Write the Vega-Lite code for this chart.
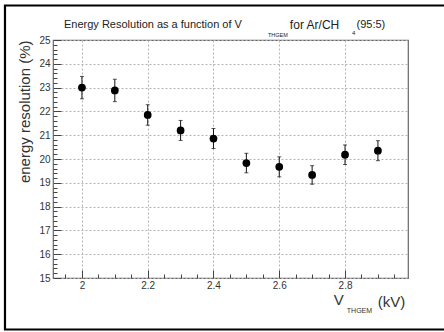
{
  "$schema": "https://vega.github.io/schema/vega-lite/v6.json",
  "width": 355,
  "height": 238,
  "autosize": {"type": "none"},
  "padding": {"left": 53, "top": 40, "right": 36, "bottom": 54},
  "background": "white",
  "config": {
    "view": {"stroke": "#666", "strokeWidth": 1.2},
    "font": "Liberation Sans",
    "axis": {"domain": false, "labelFont": "Liberation Sans", "labelColor": "#333", "labelFontSize": 10, "tickColor": "#444", "titleFont": "Liberation Sans", "titleFontWeight": "normal", "titleColor": "#333"}
  },
  "data": {
    "values": [
      {"v": 2.0, "res": 23.0, "err": 0.47},
      {"v": 2.1, "res": 22.88, "err": 0.47},
      {"v": 2.2, "res": 21.85, "err": 0.43},
      {"v": 2.3, "res": 21.2, "err": 0.42},
      {"v": 2.4, "res": 20.86, "err": 0.42},
      {"v": 2.5, "res": 19.83, "err": 0.41},
      {"v": 2.6, "res": 19.67, "err": 0.42},
      {"v": 2.7, "res": 19.33, "err": 0.39},
      {"v": 2.8, "res": 20.18, "err": 0.41},
      {"v": 2.9, "res": 20.35, "err": 0.42}
    ]
  },
  "layer": [
    {
      "mark": {"type": "errorbar", "color": "#111", "thickness": 1, "ticks": {"size": 4, "color": "#111"}},
      "encoding": {
        "x": {"field": "v", "type": "quantitative", "scale": {"domain": [1.912, 2.9915], "nice": false, "zero": false},
              "axis": {"orient": "bottom", "title": null, "values": [1.95, 2.05, 2.1, 2.15, 2.25, 2.3, 2.35, 2.45, 2.5, 2.55, 2.65, 2.7, 2.75, 2.85, 2.9, 2.95], "labels": false, "grid": false, "tickSize": -4}},
        "y": {"field": "res", "type": "quantitative", "scale": {"domain": [15, 25], "nice": false, "zero": false},
              "axis": {"orient": "left", "title": null, "values": [15.2, 15.4, 15.6, 15.8, 16.2, 16.4, 16.6, 16.8, 17.2, 17.4, 17.6, 17.8, 18.2, 18.4, 18.6, 18.8, 19.2, 19.4, 19.6, 19.8, 20.2, 20.4, 20.6, 20.8, 21.2, 21.4, 21.6, 21.8, 22.2, 22.4, 22.6, 22.8, 23.2, 23.4, 23.6, 23.8, 24.2, 24.4, 24.6, 24.8], "labels": false, "grid": false, "tickSize": -4}},
        "yError": {"field": "err"}
      }
    },
    {
      "mark": {"type": "point", "filled": true, "shape": "circle", "size": 60, "color": "#000", "opacity": 1},
      "encoding": {
        "x": {"field": "v", "type": "quantitative", "scale": {"domain": [1.912, 2.9915], "nice": false, "zero": false},
              "axis": {"orient": "bottom", "title": null, "values": [2, 2.2, 2.4, 2.6, 2.8], "format": "~g", "grid": true, "gridColor": "#b4b4b4", "gridDash": [2, 2], "tickSize": -8, "labelPadding": 10}},
        "y": {"field": "res", "type": "quantitative", "scale": {"domain": [15, 25], "nice": false, "zero": false},
              "axis": {"orient": "left", "title": "energy resolution (%)", "titleFontSize": 15, "titleAnchor": "end", "titlePadding": 6, "values": [15, 16, 17, 18, 19, 20, 21, 22, 23, 24, 25], "grid": true, "gridColor": "#b4b4b4", "gridDash": [2, 2], "tickSize": -8, "labelPadding": 11}}
      }
    },
    {
      "data": {"values": [{}]},
      "mark": {"type": "text", "align": "left", "baseline": "middle", "fontSize": 11, "color": "#222", "text": "Energy Resolution as a function of  V"},
      "encoding": {
        "x": {"datum": 1.9454, "type": "quantitative", "axis": null, "scale": {"domain": [1.912, 2.9915], "nice": false, "zero": false}},
        "y": {"datum": 25.63, "type": "quantitative", "axis": null, "scale": {"domain": [15, 25], "nice": false, "zero": false}}
      }
    },
    {
      "data": {"values": [{}]},
      "mark": {"type": "text", "align": "left", "baseline": "middle", "fontSize": 5.5, "color": "#222", "text": "THGEM"},
      "encoding": {
        "x": {"datum": 2.5655, "type": "quantitative", "axis": null, "scale": {"domain": [1.912, 2.9915], "nice": false, "zero": false}},
        "y": {"datum": 25.19, "type": "quantitative", "axis": null, "scale": {"domain": [15, 25], "nice": false, "zero": false}}
      }
    },
    {
      "data": {"values": [{}]},
      "mark": {"type": "text", "align": "left", "baseline": "middle", "fontSize": 12, "color": "#222", "text": "for Ar/CH"},
      "encoding": {
        "x": {"datum": 2.6323, "type": "quantitative", "axis": null, "scale": {"domain": [1.912, 2.9915], "nice": false, "zero": false}},
        "y": {"datum": 25.63, "type": "quantitative", "axis": null, "scale": {"domain": [15, 25], "nice": false, "zero": false}}
      }
    },
    {
      "data": {"values": [{}]},
      "mark": {"type": "text", "align": "left", "baseline": "middle", "fontSize": 6, "color": "#222", "text": "4"},
      "encoding": {
        "x": {"datum": 2.821, "type": "quantitative", "axis": null, "scale": {"domain": [1.912, 2.9915], "nice": false, "zero": false}},
        "y": {"datum": 25.29, "type": "quantitative", "axis": null, "scale": {"domain": [15, 25], "nice": false, "zero": false}}
      }
    },
    {
      "data": {"values": [{}]},
      "mark": {"type": "text", "align": "left", "baseline": "middle", "fontSize": 11, "color": "#222", "text": "(95:5)"},
      "encoding": {
        "x": {"datum": 2.835, "type": "quantitative", "axis": null, "scale": {"domain": [1.912, 2.9915], "nice": false, "zero": false}},
        "y": {"datum": 25.63, "type": "quantitative", "axis": null, "scale": {"domain": [15, 25], "nice": false, "zero": false}}
      }
    },
    {
      "data": {"values": [{}]},
      "mark": {"type": "text", "align": "left", "baseline": "middle", "fontSize": 15, "color": "#333", "text": "V"},
      "encoding": {
        "x": {"datum": 2.766, "type": "quantitative", "axis": null, "scale": {"domain": [1.912, 2.9915], "nice": false, "zero": false}},
        "y": {"datum": 14.076, "type": "quantitative", "axis": null, "scale": {"domain": [15, 25], "nice": false, "zero": false}}
      }
    },
    {
      "data": {"values": [{}]},
      "mark": {"type": "text", "align": "left", "baseline": "middle", "fontSize": 7, "color": "#333", "text": "THGEM"},
      "encoding": {
        "x": {"datum": 2.8055, "type": "quantitative", "axis": null, "scale": {"domain": [1.912, 2.9915], "nice": false, "zero": false}},
        "y": {"datum": 13.61, "type": "quantitative", "axis": null, "scale": {"domain": [15, 25], "nice": false, "zero": false}}
      }
    },
    {
      "data": {"values": [{}]},
      "mark": {"type": "text", "align": "left", "baseline": "middle", "fontSize": 15, "color": "#333", "text": "(kV)"},
      "encoding": {
        "x": {"datum": 2.8998, "type": "quantitative", "axis": null, "scale": {"domain": [1.912, 2.9915], "nice": false, "zero": false}},
        "y": {"datum": 14.0, "type": "quantitative", "axis": null, "scale": {"domain": [15, 25], "nice": false, "zero": false}}
      }
    },
    {
      "data": {"values": [{}]},
      "mark": {"type": "rect", "fillOpacity": 0, "stroke": "#000", "strokeWidth": 2.2},
      "encoding": {
        "x": {"datum": 1.766, "type": "quantitative", "axis": null, "scale": {"domain": [1.912, 2.9915], "nice": false, "zero": false}},
        "x2": {"datum": 3.12},
        "y": {"datum": 26.45, "type": "quantitative", "axis": null, "scale": {"domain": [15, 25], "nice": false, "zero": false}},
        "y2": {"datum": 12.836}
      }
    }
  ],
  "resolve": {"axis": {"x": "independent", "y": "independent"}}
}
